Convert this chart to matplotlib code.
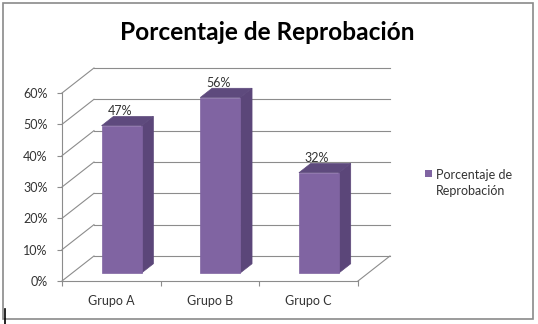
import matplotlib
matplotlib.use('Agg')
import matplotlib.pyplot as plt
from matplotlib.patches import Polygon, Rectangle
from matplotlib.lines import Line2D

plt.rcParams['font.family'] = ['Lato', 'DejaVu Sans']

grupos = ['Grupo A', 'Grupo B', 'Grupo C']
reprobacion = [47, 56, 32]
yticks = [0, 10, 20, 30, 40, 50, 60]
ytick_labels = ['0%', '10%', '20%', '30%', '40%', '50%', '60%']
serie = 'Porcentaje de\nReprobación'

W, H = 538, 324
fig = plt.figure(figsize=(W / 100, H / 100), dpi=100)
fig.patch.set_facecolor('white')

# front plane of the 3d box
ax = fig.add_axes([62 / W, 43 / H, 296 / W, 188 / H])
ax.set_xlim(0, 3)
ax.set_ylim(0, 60)
ax.set_facecolor('none')

grid_c = '#8c8c8c'
dx, dy = 0.324, 7.98      # depth offset (categories, percent)
f0, f1 = 0.32, 0.69       # bar front / back depth fraction
bw = 0.405

# back wall, left wall, floor edge
for v in yticks:
    ax.add_line(Line2D([0 + dx, 3 + dx], [v + dy, v + dy], color=grid_c, lw=0.8, clip_on=False))
    ax.add_line(Line2D([0, dx], [v, v + dy], color=grid_c, lw=0.8, clip_on=False))
ax.add_line(Line2D([3, 3 + dx], [0, dy], color=grid_c, lw=0.8, clip_on=False))

front_c, side_c, top_c = '#8064a2', '#5b4679', '#5e4a7d'
for i, v in enumerate(reprobacion):
    x0, x1 = i + 0.5 - bw / 2, i + 0.5 + bw / 2
    ax0, ay0 = f0 * dx, f0 * dy
    ax1, ay1 = f1 * dx, f1 * dy
    front = [(x0 + ax0, ay0), (x1 + ax0, ay0), (x1 + ax0, v + ay0), (x0 + ax0, v + ay0)]
    side = [(x1 + ax0, ay0), (x1 + ax1, ay1), (x1 + ax1, v + ay1), (x1 + ax0, v + ay0)]
    top = [(x0 + ax0, v + ay0), (x1 + ax0, v + ay0), (x1 + ax1, v + ay1), (x0 + ax1, v + ay1)]
    for pts, c in [(side, side_c), (top, top_c), (front, front_c)]:
        ax.add_patch(Polygon(pts, closed=True, facecolor=c, edgecolor=c, lw=0.5, clip_on=False, zorder=3))
    ax.text(i + 0.5 + ax0 - 0.02, v + ay0 + 4.6, f'{v}%', ha='center', va='center',
            fontsize=9, color='#333333', zorder=4)

for s in ['top', 'right']:
    ax.spines[s].set_visible(False)
for s in ['left', 'bottom']:
    ax.spines[s].set_color(grid_c)
    ax.spines[s].set_linewidth(0.8)

ax.set_yticks(yticks)
ax.set_yticklabels(ytick_labels)
ax.tick_params(axis='y', direction='out', length=3.5, width=0.8, color=grid_c,
               pad=7, labelsize=9, labelcolor='#333333')
ax.set_xticks([0, 1, 2, 3])
ax.set_xticklabels([])
ax.set_xticks([0.5, 1.5, 2.5], minor=True)
ax.set_xticklabels(grupos, minor=True)
ax.tick_params(axis='x', which='major', direction='out', length=3.5, width=0.8, color=grid_c)
ax.tick_params(axis='x', which='minor', length=0, pad=10, labelsize=9, labelcolor='#333333')

fig.text(267 / W, 1 - 32 / H, 'Porcentaje de Reprobación', ha='center', va='center',
         fontsize=17.6, fontweight='bold', color='black')

# legend
fig.patches.append(Rectangle((425 / W, 1 - 177 / H), 7 / W, 7 / H, transform=fig.transFigure,
                             facecolor=front_c, edgecolor='none'))
fig.text(436 / W, 1 - 183 / H, serie, ha='left', va='center', fontsize=9,
         color='#333333', linespacing=1.35)

# chart frame
fig.patches.append(Rectangle((3 / W, 5 / H), 530 / W, 316 / H, transform=fig.transFigure,
                             facecolor='none', edgecolor='#8a8a8a', lw=1.2))
fig.lines.append(Line2D([4.5 / W, 4.5 / W], [0, 15 / H], transform=fig.transFigure,
                        color='black', lw=1.2))

fig.savefig('out.png', dpi=100)
